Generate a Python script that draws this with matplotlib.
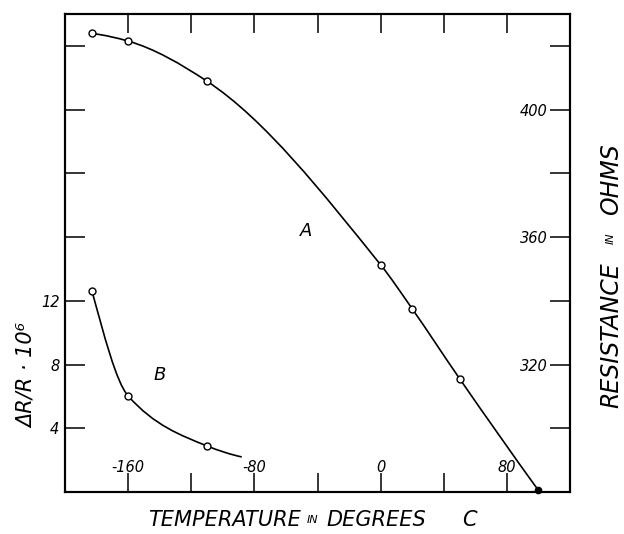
import numpy as np
import matplotlib
matplotlib.use("Agg")
import matplotlib.pyplot as plt
from matplotlib.path import Path
from matplotlib.patches import PathPatch

# ---------------- data ----------------
# Curve A: resistance (ohms, right axis) vs temperature (deg C)
temp_a = [-183, -160, -110, 0, 20, 50, 100]
res_a = [423.9, 421.5, 408.9, 351.3, 337.5, 315.6, 280.5]
# Curve B: dR/R x 10^6 (left axis) vs temperature (deg C); last value = end of drawn curve
temp_b = [-183, -160, -110, -88]
drr_b = [12.64, 6.03, 2.89, 2.2]
n_marked_b = 3

x_ticks = [-160, -120, -80, -40, 0, 40, 80]
x_ticklabels = ["-160", "", "-80", "", "0", "", "80"]
left_ticks = [4, 8, 12, 16, 20, 24, 28]
left_ticklabels = ["4", "8", "12", "", "", "", ""]
right_ticks = [300, 320, 340, 360, 380, 400, 420]
right_ticklabels = ["", "320", "", "360", "", "400", ""]

plt.rcParams["font.family"] = ["DejaVu Sans"]
plt.rcParams["font.style"] = "oblique"


def smooth_path(xs, ys):
    """Shape-preserving smooth Bezier path through the points (PCHIP tangents)."""
    x = np.asarray(xs, float)
    y = np.asarray(ys, float)
    h = np.diff(x)
    d = np.diff(y) / h
    n = len(x)
    m = np.zeros(n)
    for k in range(1, n - 1):
        if d[k - 1] * d[k] > 0:
            w1 = 2 * h[k] + h[k - 1]
            w2 = h[k] + 2 * h[k - 1]
            m[k] = (w1 + w2) / (w1 / d[k - 1] + w2 / d[k])

    def end(h0, h1, d0, d1):
        v = ((2 * h0 + h1) * d0 - h0 * d1) / (h0 + h1)
        if np.sign(v) != np.sign(d0):
            v = 0.0
        elif np.sign(d0) != np.sign(d1) and abs(v) > abs(3 * d0):
            v = 3 * d0
        return v

    m[0] = end(h[0], h[1], d[0], d[1])
    m[-1] = end(h[-1], h[-2], d[-1], d[-2])
    verts = [(x[0], y[0])]
    codes = [Path.MOVETO]
    for i in range(n - 1):
        verts += [(x[i] + h[i] / 3, y[i] + m[i] * h[i] / 3),
                  (x[i + 1] - h[i] / 3, y[i + 1] - m[i + 1] * h[i] / 3),
                  (x[i + 1], y[i + 1])]
        codes += [Path.CURVE4] * 3
    return Path(verts, codes)


fig = plt.figure(figsize=(6.24, 5.34), dpi=100)
ax = fig.add_axes([65 / 624, 42 / 534, 505 / 624, 478 / 534])
ax.set_xlim(-200, 120)
ax.set_ylim(0, 30)
ax2 = ax.twinx()
ax2.set_ylim(280, 430)

for a in (ax, ax2):
    for s in a.spines.values():
        s.set_linewidth(1.5)

# ticks
ax.set_xticks(x_ticks)
ax.set_xticklabels(x_ticklabels, va="bottom", fontsize=10.5)
ax.tick_params(axis="x", direction="in", length=13.5, width=1.1, top=True,
               bottom=True, pad=-12)
ax.set_yticks(left_ticks)
ax.set_yticklabels(left_ticklabels, fontsize=10.5)
ax.tick_params(axis="y", direction="in", length=14.5, width=1.1, pad=4)
ax2.set_yticks(right_ticks)
ax2.set_yticklabels(right_ticklabels, ha="right", fontsize=10.5)
ax2.tick_params(axis="y", direction="in", length=14.5, width=1.1, pad=-16)

# curve A
ax2.add_patch(PathPatch(smooth_path(temp_a, res_a), fill=False, lw=1.2,
                        ec="black", transform=ax2.transData))
ax2.plot(temp_a[:-1], res_a[:-1], ls="none", marker="o", ms=5, mfc="white",
         mec="black", mew=1.0, zorder=3)
ax2.plot(temp_a[-1:], res_a[-1:], ls="none", marker="o", ms=4.5, mfc="black",
         mec="black", clip_on=False, zorder=3)

# curve B
ax.add_patch(PathPatch(smooth_path(temp_b, drr_b), fill=False, lw=1.2,
                       ec="black", transform=ax.transData))
ax.plot(temp_b[:n_marked_b], drr_b[:n_marked_b], ls="none", marker="o", ms=5,
        mfc="white", mec="black", mew=1.0, zorder=3)

ax.text(-47.5, 16.35, "A", fontsize=13, ha="center", va="center")
ax.text(-140, 7.35, "B", fontsize=13, ha="center", va="center")

# x axis label (small "IN")
t1 = fig.text(148 / 624, 1 - 520 / 534, "TEMPERATURE", fontsize=15,
              ha="left", va="center")
t2 = ax.annotate("IN", xy=(1, 0.5), xycoords=t1, xytext=(4, 0),
                 textcoords="offset points", fontsize=8, ha="left",
                 va="center", annotation_clip=False)
t3 = ax.annotate("DEGREES", xy=(1, 0.5), xycoords=t2, xytext=(6, 0),
                 textcoords="offset points", fontsize=15, ha="left",
                 va="center", annotation_clip=False)
t4 = ax.annotate("C", xy=(1, 0.5), xycoords=t3, xytext=(26, 0),
                 textcoords="offset points", fontsize=15, ha="left",
                 va="center", annotation_clip=False)

# right axis label
r1 = fig.text(611 / 624, 1 - 408 / 534, "RESISTANCE", fontsize=17,
              rotation=90, ha="center", va="bottom")
r2 = ax.annotate("IN", xy=(0.5, 1), xycoords=r1, xytext=(0, 13),
                 textcoords="offset points", fontsize=8, rotation=90,
                 ha="center", va="bottom", annotation_clip=False)
r3 = ax.annotate("OHMS", xy=(0.5, 1), xycoords=r2, xytext=(0, 13),
                 textcoords="offset points", fontsize=17, rotation=90,
                 ha="center", va="bottom", annotation_clip=False)

# left axis label
fig.text(27 / 624, 1 - 375 / 534, "ΔR/R · 10⁶", fontsize=15, rotation=90,
         ha="center", va="center")

fig.savefig("out.png", dpi=100)
